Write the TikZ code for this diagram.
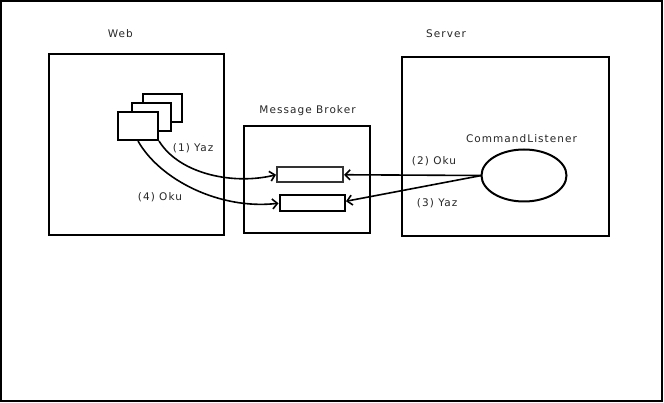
\documentclass[tikz,border=0pt]{standalone}
\usepackage{fontspec}
\setmainfont{DejaVu Sans}[LetterSpace=10]
\usetikzlibrary{arrows.meta}
\begin{document}
\begin{tikzpicture}[x=1pt,y=-1pt,
  box/.style={draw=black,line width=2pt,fill=white},
  lbl/.style={inner sep=0pt,font=\fontsize{10.5pt}{12pt}\selectfont,text=black!85},
  conn/.style={line width=1.6pt,-{Straight Barb[length=5pt,width=10pt,line width=1.6pt]}}]
\useasboundingbox (0,0) rectangle (664,403);
\draw[line width=2pt] (1,1) rectangle (662,401);
% Web
\draw[box] (48.5,54) rectangle (223.5,235.5);
\node[box,minimum width=39pt,minimum height=28pt,inner sep=0pt,anchor=north west] (back) at (142,93) {};
\node[box,minimum width=39.5pt,minimum height=28pt,inner sep=0pt,anchor=north west] (mid) at (130.5,102) {};
\node[box,minimum width=40pt,minimum height=28pt,inner sep=0pt,anchor=north west] (front) at (117,111) {};
% Broker
\draw[box] (244,126) rectangle (369.5,233.5);
\node[draw=black!80,line width=2pt,fill=white,minimum width=66pt,minimum height=15.5pt,inner sep=0pt,anchor=north west] (q1) at (276,166) {};
\node[box,minimum width=65.5pt,minimum height=15.5pt,inner sep=0pt,anchor=north west] (q2) at (278.5,194.5) {};
% Server
\draw[box] (402,57) rectangle (608.5,236);
\draw[line width=2pt] (524,175.5) ellipse [x radius=42.5, y radius=26];
\coordinate (el) at (481.5,175.5);
% labels
\node[lbl,anchor=base west] (tweb) at (107.7,38) {Web};
\node[lbl,anchor=base west] (tserver) at (426,37.5) {Server};
\node[lbl,anchor=base] (tbroker) at (307.5,113.7) {Message Broker};
\node[lbl,anchor=base] (tcl) at (521.5,142.3) {CommandListener};
\node[lbl,anchor=base west] (l1) at (172.7,151.7) {(1) Yaz};
\node[lbl,anchor=base west] (l4) at (137.7,200.7) {(4) Oku};
\node[lbl,anchor=base west] (l2) at (411.7,164.5) {(2) Oku};
\node[lbl,anchor=base west] (l3) at (416.7,206.3) {(3) Yaz};
% connectors
\draw[conn] (front.south east) .. controls (180,175) and (235,185) .. (q1.west);
\draw[conn] (front.south) .. controls (160,180) and (220,210) .. (q2.west);
\draw[conn] (el) -- (q1.east);
\draw[conn] (el) -- ([yshift=2pt]q2.east);
\end{tikzpicture}
\end{document}
